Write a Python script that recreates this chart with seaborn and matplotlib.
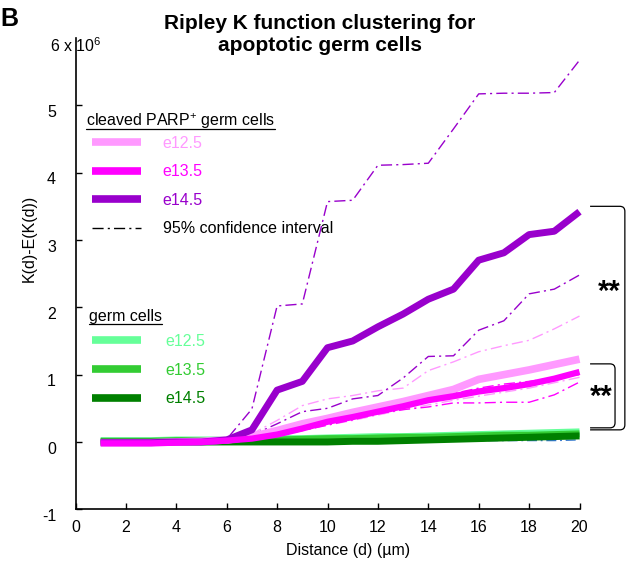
import numpy as np
import pandas as pd
import seaborn as sns
import matplotlib.pyplot as plt
import matplotlib.transforms as mtransforms
from matplotlib.lines import Line2D
from matplotlib.path import Path
from matplotlib.patches import PathPatch

# distance (um) and K(d)-E(K(d)) in units of 10^6
distance = list(range(1, 21))

parp_e125 = [-0.01, -0.01, -0.01, 0.0, 0.01, 0.03, 0.08, 0.17, 0.27, 0.35, 0.44, 0.52, 0.6, 0.69, 0.78,
             0.93, 1.0, 1.07, 1.15, 1.23]
parp_e135 = [-0.02, -0.02, -0.02, -0.01, 0.0, 0.02, 0.05, 0.11, 0.2, 0.3, 0.37, 0.45, 0.53, 0.62, 0.68,
             0.75, 0.8, 0.86, 0.94, 1.04]
parp_e145 = [-0.01, -0.01, -0.01, 0.0, 0.0, 0.03, 0.18, 0.77, 0.9, 1.4, 1.5, 1.71, 1.9, 2.12, 2.27,
             2.7, 2.81, 3.08, 3.13, 3.42]

ci_e125_hi = [0.02, 0.02, 0.02, 0.02, 0.02, 0.05, 0.12, 0.32, 0.54, 0.64, 0.69, 0.76, 0.8, 1.06, 1.19,
              1.34, 1.43, 1.51, 1.68, 1.87]
ci_e125_lo = [0.0, 0.0, 0.0, 0.0, 0.01, 0.02, 0.05, 0.1, 0.17, 0.25, 0.32, 0.4, 0.48, 0.55, 0.62,
              0.68, 0.74, 0.8, 0.88, 0.96]
ci_e135_hi = [0.0, 0.0, 0.0, 0.0, 0.01, 0.03, 0.07, 0.14, 0.22, 0.3, 0.38, 0.45, 0.55, 0.64, 0.72,
              0.8, 0.86, 0.9, 0.95, 1.0]
ci_e135_lo = [-0.01, -0.01, -0.01, 0.0, 0.0, 0.02, 0.04, 0.09, 0.17, 0.25, 0.33, 0.42, 0.48, 0.52, 0.58,
              0.58, 0.59, 0.59, 0.7, 0.89]
ci_e145_hi = [0.02, 0.02, 0.02, 0.02, 0.02, 0.04, 0.49, 2.02, 2.05, 3.57, 3.59, 4.11, 4.12, 4.14, 4.65,
              5.17, 5.18, 5.18, 5.19, 5.67]
ci_e145_lo = [0.0, 0.0, 0.0, 0.0, 0.01, 0.03, 0.1, 0.27, 0.45, 0.5, 0.64, 0.69, 0.95, 1.27, 1.28,
              1.66, 1.8, 2.2, 2.27, 2.48]

germ_e125 = [0.02, 0.02, 0.02, 0.03, 0.03, 0.03, 0.04, 0.05, 0.05, 0.06, 0.07, 0.08, 0.08, 0.09, 0.1,
             0.11, 0.12, 0.13, 0.14, 0.15]
germ_e135 = [0.01, 0.01, 0.01, 0.02, 0.02, 0.02, 0.03, 0.03, 0.04, 0.05, 0.05, 0.06, 0.07, 0.07, 0.08,
             0.09, 0.1, 0.1, 0.11, 0.12]
germ_e145 = [0.0, 0.0, 0.0, 0.0, 0.0, 0.0, 0.0, 0.0, 0.0, 0.0, 0.01, 0.01, 0.02, 0.03, 0.04,
             0.05, 0.06, 0.07, 0.08, 0.09]
germ_ci_hi = [0.03, 0.03, 0.03, 0.03, 0.03, 0.03, 0.03, 0.03, 0.03, 0.03, 0.03, 0.04, 0.04, 0.04, 0.04,
              0.04, 0.05, 0.05, 0.05, 0.05]
germ_ci_lo = [0.01, 0.01, 0.01, 0.01, 0.01, 0.01, 0.01, 0.01, 0.01, 0.01, 0.01, 0.01, 0.02, 0.02, 0.02,
              0.02, 0.02, 0.02, 0.02, 0.03]

stage_labels = ['e12.5', 'e13.5', 'e14.5']
parp_colors = ['#FF99FF', '#FF00FF', '#9900CC']
germ_colors = ['#66FF99', '#33CC33', '#008000']
germ_ci_color = '#3377CC'
x_ticks = list(range(0, 21, 2))
y_ticks = list(range(-1, 6))

sns.set_theme(style='white')
plt.rcParams['font.family'] = ['Liberation Sans', 'DejaVu Sans']
plt.rcParams['mathtext.fontset'] = 'custom'
plt.rcParams['mathtext.rm'] = 'Liberation Sans'
plt.rcParams['mathtext.bf'] = 'Liberation Sans:bold'
for key in ['text.color', 'axes.labelcolor', 'xtick.color', 'ytick.color', 'axes.edgecolor']:
    plt.rcParams[key] = 'black'

W, H = 634, 567
fig = plt.figure(figsize=(W / 100, H / 100), dpi=100)
ax = fig.add_axes([75.5 / W, (H - 509.3) / H, 504 / W, 471.3 / H])

ci_ls = (0, (8, 3, 1.5, 3))


def draw(values, color, lw, ls='-', z=2):
    df = pd.DataFrame({'d': distance, 'k': values})
    sns.lineplot(data=df, x='d', y='k', ax=ax, color=color, lw=lw, linestyle=ls,
                 errorbar=None, legend=False, zorder=z, clip_on=False, solid_capstyle='butt')


# germ cell confidence intervals and curves
draw(germ_ci_hi, germ_ci_color, 0.9, ci_ls, 2)
draw(germ_ci_lo, germ_ci_color, 0.9, ci_ls, 2)
for vals, c in zip([germ_e125, germ_e135, germ_e145], germ_colors):
    draw(vals, c, 5, '-', 3)

# cleaved PARP+ confidence intervals
for hi, lo, c in zip([ci_e125_hi, ci_e135_hi, ci_e145_hi], [ci_e125_lo, ci_e135_lo, ci_e145_lo], parp_colors):
    draw(hi, c, 1, ci_ls, 4)
    draw(lo, c, 1, ci_ls, 4)

draw(parp_e125, parp_colors[0], 5.5, '-', 5)
draw(parp_e145, parp_colors[2], 5, '-', 5)
draw(parp_e135, parp_colors[1], 4.5, '-', 6)

ax.set_xlim(0, 20)
ax.set_ylim(-1, 6)
ax.set_xticks(x_ticks)
ax.set_yticks(y_ticks)
ax.set_xticklabels([str(t) for t in x_ticks])
ax.set_yticklabels([str(t) for t in y_ticks])
sns.despine(ax=ax)
for s in ['left', 'bottom']:
    ax.spines[s].set_color('black')
    ax.spines[s].set_linewidth(1.2)
ax.tick_params(axis='both', direction='in', length=4, width=1, color='black', labelcolor='black',
               labelsize=11.5, left=True, bottom=True)
ax.tick_params(axis='x', pad=8)
ax.tick_params(axis='y', pad=14)
# y labels sit a little below their ticks in the original
shift = mtransforms.ScaledTranslation(0, -4 / 72, fig.dpi_scale_trans)
for lab in ax.get_yticklabels():
    lab.set_transform(lab.get_transform() + shift)

ax.set_xlabel('Distance (d) (µm)', fontsize=11.5, color='black')
ax.set_ylabel('K(d)-E(K(d))', fontsize=11.5, color='black')
ax.xaxis.set_label_coords(0.54, -0.072)
ax.yaxis.set_label_coords(-0.077, 0.575)

fig.text(50 / W, 1 - 46 / H, '6 x 10$^{6}$', fontsize=11.5, va='center', ha='left')

fig.text(320 / W, 1 - 34.5 / H, 'Ripley K function clustering for\napoptotic germ cells',
         ha='center', va='center', fontsize=15, fontweight='bold', linespacing=1.2)
fig.text(0, 1 - 19 / H, 'B', fontsize=18, fontweight='bold', va='center', ha='left')

# legends
parp_handles = [Line2D([], [], color=c, lw=5.5, solid_capstyle='butt') for c in parp_colors]
parp_handles.append(Line2D([], [], color='black', lw=1, linestyle=ci_ls))
leg1 = ax.legend(parp_handles, stage_labels + ['95% confidence interval'], loc='upper left',
                 bbox_to_anchor=(92 / W, 1 - 136 / H), bbox_transform=fig.transFigure,
                 frameon=False, fontsize=11.5, handlelength=3.07, handletextpad=1.35,
                 labelspacing=0.84, borderpad=0, borderaxespad=0,
                 labelcolor=parp_colors + ['black'])
ax.add_artist(leg1)

germ_handles = [Line2D([], [], color=c, lw=5.5, solid_capstyle='butt') for c in germ_colors]
leg2 = ax.legend(germ_handles, stage_labels, loc='upper left',
                 bbox_to_anchor=(92 / W, 1 - 334 / H), bbox_transform=fig.transFigure,
                 frameon=False, fontsize=11.5, handlelength=3.07, handletextpad=1.5,
                 labelspacing=0.85, borderpad=0, borderaxespad=0, labelcolor=germ_colors)

t1 = fig.text(86 / W, 1 - 126 / H, 'cleaved PARP$^{+}$ germ cells', fontsize=11.5, va='baseline')
t2 = fig.text(89 / W, 1 - 321 / H, 'germ cells', fontsize=11.5, va='baseline')

# significance brackets
rx, ry = 0.2, 0.075


def bracket(top, bottom, x0, x1):
    verts = [(x0, top), (x1 - rx, top), (x1, top), (x1, top - ry), (x1, bottom + ry),
             (x1, bottom), (x1 - rx, bottom), (x0, bottom)]
    codes = [Path.MOVETO, Path.LINETO, Path.CURVE3, Path.CURVE3, Path.LINETO,
             Path.CURVE3, Path.CURVE3, Path.LINETO]
    ax.add_patch(PathPatch(Path(verts, codes), fill=False, edgecolor='black', lw=0.9, clip_on=False))


big_top = parp_e145[-1] + 0.08
big_bottom = germ_e125[-1] + 0.03
small_top = parp_e125[-1] - 0.07
bracket(big_top, big_bottom, 20.42, 21.8)
bracket(small_top, big_bottom + 0.03, 20.42, 21.41)
ax.text(21.17, 2.11, '**', fontsize=21, fontweight='bold', ha='center', va='baseline', color='black')
ax.text(20.85, 0.55, '**', fontsize=21, fontweight='bold', ha='center', va='baseline', color='black')

# underline legend headings
fig.canvas.draw()
r = fig.canvas.get_renderer()
for t in [t1, t2]:
    bb = t.get_window_extent(r)
    ybase = t.get_transform().transform(t.get_position())[1] - 2.5
    fig.add_artist(Line2D([bb.x0, bb.x1], [ybase, ybase], transform=None, color='black', lw=0.9))

fig.savefig('out.png', dpi=100)
